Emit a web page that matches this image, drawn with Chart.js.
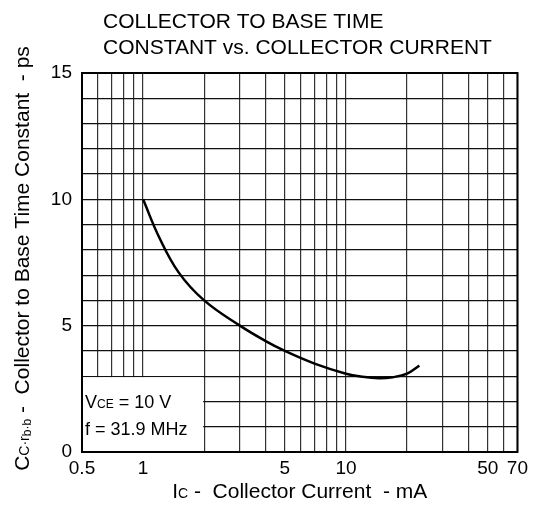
<!DOCTYPE html>
<html>
<head>
<meta charset="utf-8">
<script src="https://cdn.jsdelivr.net/npm/chart.js@4"></script>
<style>
html,body{margin:0;padding:0;background:#fff;}
#wrap{width:533px;height:512px;position:relative;}
</style>
</head>
<body>
<div id="wrap"><canvas id="c" width="533" height="512"></canvas></div>
<script>
// ---- data ----
const collectorCurrent = [1, 1.2, 1.5, 2, 3, 4, 5, 7, 10, 12, 14.5, 17, 20, 23];
const timeConstant     = [10, 8.5, 7.1, 6.0, 5.0, 4.4, 4.0, 3.5, 3.1, 2.98, 2.92, 2.96, 3.1, 3.42];
const xGridValues = [0.5,0.6,0.7,0.8,0.9,1,2,3,4,5,6,7,8,9,10,20,30,40,50,60,70];
const xTickLabels = [0.5, 1, 5, 10, 50, 70];
const yTickLabels = [0, 5, 10, 15];
const titleLines = ['COLLECTOR TO BASE TIME', 'CONSTANT vs. COLLECTOR CURRENT'];
const noteLines = [['V', 'CE', ' = 10 V'], ['f = 31.9 MHz']];

const FONT = '"Liberation Sans", Arial, Helvetica, sans-serif';

const decor = {
  id: 'decor',
  beforeDatasetsDraw(chart) {
    const {ctx, chartArea: a, scales: {x, y}} = chart;
    const xr = x.getPixelForValue(2), yt = y.getPixelForValue(3);
    ctx.save();
    ctx.fillStyle = '#fff';
    ctx.fillRect(a.left + 1, yt + 1, xr - a.left - 2, a.bottom - yt - 1);
    ctx.restore();
  },
  afterDatasetsDraw(chart) {
    const {ctx, chartArea: a} = chart;
    ctx.save();
    ctx.strokeStyle = '#000';
    ctx.lineWidth = 2;
    ctx.strokeRect(a.left, a.top, a.right - a.left, a.bottom - a.top);
    ctx.fillStyle = '#000';
    ctx.textBaseline = 'alphabetic';
    ctx.textAlign = 'left';
    let px = a.left + 3;
    ctx.font = '18px ' + FONT;
    ctx.fillText(noteLines[0][0], px, 408);
    px += ctx.measureText(noteLines[0][0]).width;
    ctx.font = '12px ' + FONT;
    ctx.fillText(noteLines[0][1], px, 408);
    px += ctx.measureText(noteLines[0][1]).width;
    ctx.font = '18px ' + FONT;
    ctx.fillText(noteLines[0][2], px, 408);
    ctx.fillText(noteLines[1][0], a.left + 3, 435);
    ctx.restore();
  },
  afterDraw(chart) {
    const {ctx, chartArea: a} = chart;
    ctx.save();
    ctx.fillStyle = '#000';
    ctx.textBaseline = 'alphabetic';
    ctx.textAlign = 'left';
    ctx.font = '21px ' + FONT;
    ctx.fillText(titleLines[0], 103, 28);
    ctx.fillText(titleLines[1], 103, 54);

    const xParts = [['I', 21, 0], ['C', 14, 0], [' -  Collector Current  - mA', 21, 0]];
    let w = 0;
    xParts.forEach(p => { ctx.font = p[1] + 'px ' + FONT; w += ctx.measureText(p[0]).width; });
    let cx = (a.left + a.right) / 2 - w / 2;
    xParts.forEach(p => { ctx.font = p[1] + 'px ' + FONT; ctx.fillText(p[0], cx, 498 + p[2]); cx += ctx.measureText(p[0]).width; });

    const yParts = [['C', 21, 0], ['C\u00B7r', 14, 0], ['b\u00B7b', 12, 2], [' -  Collector to Base Time Constant  - ps', 21, 0]];
    w = 0;
    yParts.forEach(p => { ctx.font = p[1] + 'px ' + FONT; w += ctx.measureText(p[0]).width; });
    ctx.translate(29, (a.top + a.bottom) / 2 - 4);
    ctx.rotate(-Math.PI / 2);
    let cy = -w / 2;
    yParts.forEach(p => { ctx.font = p[1] + 'px ' + FONT; ctx.fillText(p[0], cy, p[2]); cy += ctx.measureText(p[0]).width; });
    ctx.restore();
  }
};

new Chart(document.getElementById('c'), {
  type: 'line',
  data: {
    datasets: [{
      data: collectorCurrent.map((v, i) => ({x: v, y: timeConstant[i]})),
      borderColor: '#000',
      borderWidth: 2.5,
      pointRadius: 0,
      fill: false,
      tension: 0.4
    }]
  },
  options: {
    responsive: false,
    animation: false,
    devicePixelRatio: 1,
    layout: {padding: {left: 0, right: 12, top: 73, bottom: 0}},
    plugins: {legend: {display: false}, tooltip: {enabled: false}},
    scales: {
      x: {
        type: 'logarithmic',
        min: 0.5, max: 70,
        afterBuildTicks(s) { s.ticks = xGridValues.map(v => ({value: v})); },
        afterFit(s) { s.height = 60; },
        ticks: {
          autoSkip: false, maxRotation: 0, padding: 5,
          color: '#000', font: {family: FONT, size: 19},
          callback: v => xTickLabels.includes(v) ? String(v) : ''
        },
        grid: {color: '#333', lineWidth: 1.2, drawTicks: false},
        border: {display: false}
      },
      y: {
        type: 'linear',
        min: 0, max: 15,
        afterFit(s) { s.width = 82; },
        ticks: {
          stepSize: 1, autoSkip: false, padding: 10,
          color: '#000', font: {family: FONT, size: 19},
          callback: v => yTickLabels.includes(v) ? String(v) : ''
        },
        grid: {color: '#111', lineWidth: 1.2, drawTicks: false},
        border: {display: false}
      }
    }
  },
  plugins: [decor]
});
</script>
</body>
</html>
